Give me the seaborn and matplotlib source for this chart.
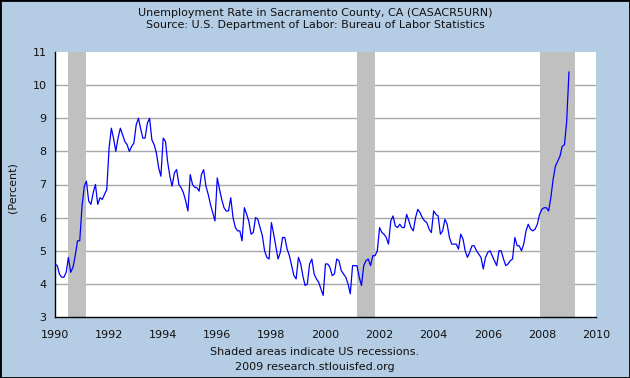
import numpy as np
import pandas as pd
import matplotlib
matplotlib.use("Agg")
import matplotlib.pyplot as plt
import matplotlib.dates as mdates
from matplotlib.patches import Rectangle
import seaborn as sns

# ---------------- data ----------------
start_month = "1990-01-01"
rate = [
    # 1990
    4.6, 4.55, 4.3, 4.2, 4.2, 4.35, 4.8, 4.35, 4.5, 4.85, 5.3, 5.3,
    # 1991
    6.35, 6.95, 7.1, 6.5, 6.4, 6.75, 7.0, 6.4, 6.6, 6.55, 6.7, 6.85,
    # 1992
    8.1, 8.7, 8.4, 8.0, 8.4, 8.7, 8.5, 8.3, 8.2, 8.0, 8.15, 8.25,
    # 1993
    8.8, 9.0, 8.7, 8.4, 8.4, 8.85, 9.0, 8.35, 8.2, 7.95, 7.5, 7.25,
    # 1994
    8.4, 8.3, 7.7, 7.25, 6.95, 7.35, 7.45, 7.0, 6.9, 6.75, 6.5, 6.2,
    # 1995
    7.3, 7.0, 6.92, 6.9, 6.8, 7.3, 7.45, 6.95, 6.7, 6.4, 6.15, 5.9,
    # 1996
    7.2, 6.85, 6.55, 6.3, 6.2, 6.2, 6.6, 6.0, 5.7, 5.6, 5.6, 5.3,
    # 1997
    6.3, 6.1, 5.9, 5.5, 5.55, 6.0, 5.95, 5.7, 5.45, 5.0, 4.8, 4.75,
    # 1998
    5.85, 5.5, 5.15, 4.75, 4.95, 5.4, 5.4, 5.05, 4.85, 4.55, 4.25, 4.15,
    # 1999
    4.8, 4.6, 4.25, 3.95, 4.0, 4.6, 4.75, 4.3, 4.15, 4.05, 3.85, 3.65,
    # 2000
    4.6, 4.6, 4.5, 4.25, 4.3, 4.75, 4.7, 4.4, 4.3, 4.2, 4.0, 3.7,
    # 2001
    4.55, 4.55, 4.55, 4.2, 3.95, 4.55, 4.7, 4.75, 4.55, 4.85, 4.85, 5.0,
    # 2002
    5.7, 5.55, 5.5, 5.4, 5.2, 5.9, 6.05, 5.75, 5.7, 5.8, 5.7, 5.7,
    # 2003
    6.1, 5.9, 5.7, 5.6, 6.0, 6.25, 6.15, 6.0, 5.9, 5.85, 5.65, 5.55,
    # 2004
    6.2, 6.1, 6.05, 5.5, 5.6, 5.95, 5.8, 5.4, 5.2, 5.2, 5.2, 5.05,
    # 2005
    5.5, 5.35, 5.0, 4.8, 4.95, 5.15, 5.15, 5.0, 4.9, 4.8, 4.45, 4.8,
    # 2006
    4.95, 5.0, 4.85, 4.7, 4.55, 5.0, 5.0, 4.75, 4.55, 4.6, 4.7, 4.75,
    # 2007
    5.4, 5.15, 5.15, 5.0, 5.2, 5.6, 5.8, 5.65, 5.6, 5.65, 5.8, 6.1,
    # 2008
    6.25, 6.3, 6.3, 6.2, 6.6, 7.15, 7.55, 7.7, 7.85, 8.15, 8.2, 8.9,
    # 2009
    10.4,
]
recession_starts = ["1990-07-01", "2001-03-01", "2007-12-01"]
recession_ends = ["1991-03-01", "2001-11-01", "2009-03-20"]
year_ticks = list(range(1990, 2011, 2))
y_ticks = list(range(3, 12))
title_lines = [
    "Unemployment Rate in Sacramento County, CA (CASACR5URN)",
    "Source: U.S. Department of Labor: Bureau of Labor Statistics",
]
footer_lines = [
    "Shaded areas indicate US recessions.",
    "2009 research.stlouisfed.org",
]
y_label = "(Percent)"

# ---------------- style ----------------
bg = "#B4CCE4"
sns.set_style("white")
plt.rcParams["font.family"] = ["DejaVu Sans"]

df = pd.DataFrame({
    "date": pd.date_range(start_month, periods=len(rate), freq="MS"),
    "rate": rate,
})

W, H = 630, 378
fig = plt.figure(figsize=(W / 100, H / 100), dpi=100, facecolor=bg)
ax = fig.add_axes([55 / W, 1 - 317 / H, (596 - 55) / W, (317 - 52) / H])
ax.set_facecolor("white")

for s, e in zip(recession_starts, recession_ends):
    ax.axvspan(pd.Timestamp(s), pd.Timestamp(e), color="#C0C0C0", lw=0, zorder=1)

sns.lineplot(data=df, x="date", y="rate", color="#0000FF", lw=0.9, ax=ax, zorder=3)

ax.set_xlim(pd.Timestamp("1990-01-01"), pd.Timestamp("2010-01-01"))
ax.set_ylim(3, 11)
ax.set_xticks([pd.Timestamp(f"{y}-01-01") for y in year_ticks])
ax.xaxis.set_major_formatter(mdates.DateFormatter("%Y"))
ax.set_yticks(y_ticks)

ax.set_axisbelow(True)
ax.yaxis.grid(True, color="#A8A8A8", lw=1)
ax.xaxis.grid(False)
# no grid line along the top edge or the bottom spine
gl = ax.yaxis.get_gridlines()
gl[0].set_visible(False)
gl[-1].set_visible(False)

for side in ["top", "right"]:
    ax.spines[side].set_visible(False)
for side in ["left", "bottom"]:
    ax.spines[side].set_color("black")
    ax.spines[side].set_linewidth(1)

ax.tick_params(axis="both", direction="in", length=5, width=1, color="black",
               labelsize=8, labelcolor="#111111")
ax.tick_params(axis="x", pad=9)
ax.tick_params(axis="y", pad=6)
ax.set_xlabel("")
ax.set_ylabel("")

fig.text(12 / W, 1 - 188 / H, y_label, rotation=90, ha="center", va="center",
         fontsize=8, color="#111111")
fig.text(0.5, 1 - 12.5 / H, title_lines[0], ha="center", va="center", fontsize=8, color="#111111")
fig.text(0.5, 1 - 25.5 / H, title_lines[1], ha="center", va="center", fontsize=8, color="#111111")
fig.text(0.5, 1 - 352 / H, footer_lines[0], ha="center", va="center", fontsize=8, color="#111111")
fig.text(0.5, 1 - 367 / H, footer_lines[1], ha="center", va="center", fontsize=8, color="#111111")

fig.patches.append(Rectangle((0, 0), 1, 1, transform=fig.transFigure, fill=False,
                             edgecolor="black", lw=2))

fig.savefig("out.png", dpi=100, facecolor=bg)
